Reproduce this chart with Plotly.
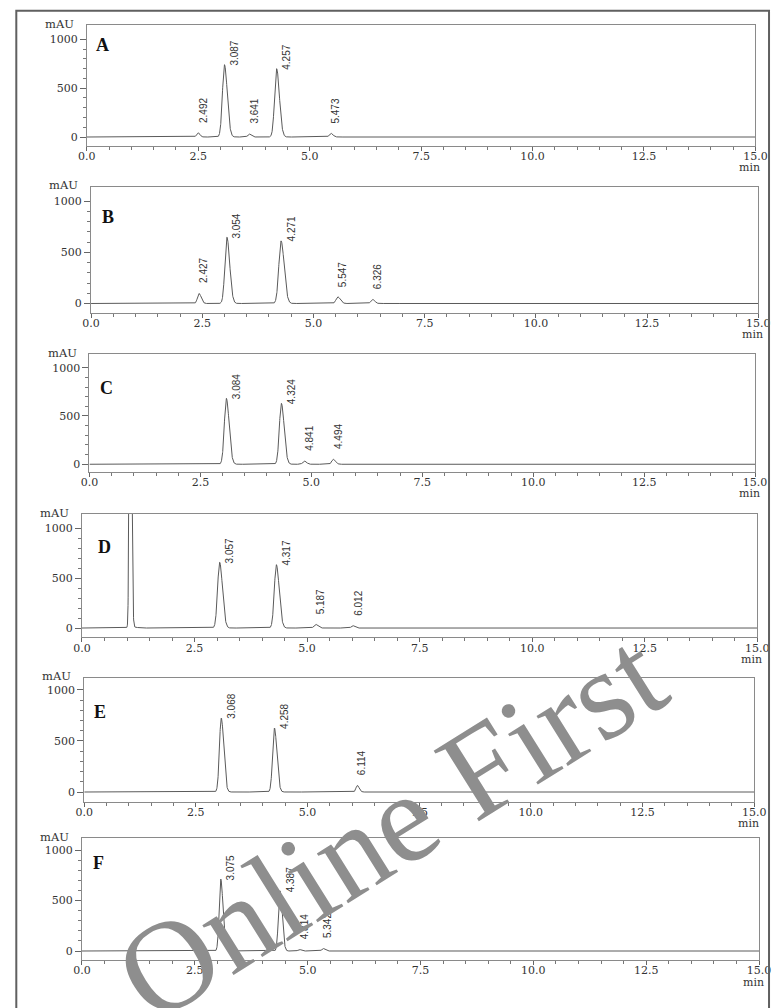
import numpy as np
import plotly.graph_objects as go

W, H = 782, 1008

# ---- chromatogram data: retention time (min), peak height (mAU), peak width (sigma, min), label ----
rt_A = [2.492, 3.087, 3.641, 4.257, 5.473]
height_A = [45, 740, 31, 699, 38]
width_A = [0.030, 0.045, 0.030, 0.045, 0.035]
label_A = ["2.492", "3.087", "3.641", "4.257", "5.473"]

rt_B = [2.427, 3.054, 4.271, 5.547, 6.326]
height_B = [98, 647, 611, 65, 42]
width_B = [0.035, 0.045, 0.050, 0.040, 0.035]
label_B = ["2.427", "3.054", "4.271", "5.547", "6.326"]

rt_C = [3.084, 4.324, 4.841, 5.494]
height_C = [683, 631, 34, 52]
width_C = [0.045, 0.045, 0.035, 0.035]
label_C = ["3.084", "4.324", "4.841", "4.494"]

rt_D = [1.07, 1.10, 3.057, 4.317, 5.187, 6.012]
height_D = [5000, 10, 659, 635, 37, 24]
width_D = [0.019, 0.08, 0.045, 0.045, 0.035, 0.030]
label_D = ["", "", "3.057", "4.317", "5.187", "6.012"]

rt_E = [3.068, 4.258, 6.114]
height_E = [725, 627, 65]
width_E = [0.040, 0.040, 0.030]
label_E = ["3.068", "4.258", "6.114"]

rt_F = [3.075, 4.387, 4.814, 5.342]
height_F = [712, 596, 15, 25]
width_F = [0.035, 0.035, 0.030, 0.030]
label_F = ["3.075", "4.387", "4.814", "5.342"]

panels = [
    ("A", rt_A, height_A, width_A, label_A),
    ("B", rt_B, height_B, width_B, label_B),
    ("C", rt_C, height_C, width_C, label_C),
    ("D", rt_D, height_D, width_D, label_D),
    ("E", rt_E, height_E, width_E, label_E),
    ("F", rt_F, height_F, width_F, label_F),
]

x_ticks = [0, 2.5, 5.0, 7.5, 10.0, 12.5, 15.0]
x_ticktext = ["0.0", "2.5", "5.0", "7.5", "10.0", "12.5", "15.0"]
y_ticks = [0, 500, 1000]
y_ticktext = ["0", "500", "1000"]

# ---- page layout of each panel (pixels): box left, right, top, bottom; y-range ----
boxes = [
    (80.0, 767.0, 25.0, 145.7, -89, 1146),
    (84.3, 770.0, 186.7, 312.5, -88, 1140),
    (82.7, 766.7, 354.0, 471.5, -75, 1142),
    (75.0, 769.0, 514.0, 637.3, -93, 1143),
    (77.3, 765.7, 677.7, 801.5, -93, 1120),
    (75.0, 770.7, 838.3, 960.0, -89, 1116),
]
letter_pos = [(96.5, 45.5), (102, 216.7), (100, 388), (98, 546.7), (94, 711.7), (92, 863)]


def px(xp):
    return xp / W


def py(yp):
    return 1 - yp / H


def trace_from_peaks(t, rts, hts, wds):
    y = np.zeros_like(t)
    for r, h, s in zip(rts, hts, wds):
        sig = np.where(t < r, s, s * 1.4)  # mild tailing on the trailing edge
        y += h * np.exp(-0.5 * ((t - r) / sig) ** 2)
    return y


t = np.linspace(0, 15, 6001)
fig = go.Figure()
annotations = []
shapes = []

axis_font = dict(family="DejaVu Serif", size=11, color="#333")
line_col = "#8a8a8a"

for i, (name, rts, hts, wds, lbls) in enumerate(panels):
    n = i + 1
    xa = "x" if n == 1 else f"x{n}"
    ya = "y" if n == 1 else f"y{n}"
    left, right, top, bottom, ylo, yhi = boxes[i]

    fig.add_trace(go.Scatter(
        x=t, y=trace_from_peaks(t, rts, hts, wds), mode="lines",
        line=dict(color="#5a5a5a", width=1), xaxis=xa, yaxis=ya,
        showlegend=False, hoverinfo="skip"))

    fig.layout[f"xaxis{'' if n == 1 else n}"] = dict(
        domain=[px(left), px(right)], anchor=ya, range=[0, 15],
        showline=True, mirror=True, linecolor=line_col, linewidth=1,
        showgrid=False, zeroline=False,
        tickmode="array", tickvals=x_ticks, ticktext=x_ticktext,
        ticks="outside", ticklen=4, tickcolor="#666", tickfont=axis_font,
        ticklabelstandoff=-4,
        minor=dict(dtick=0.5, ticks="outside", ticklen=3, tickcolor="#777", showgrid=False),
        fixedrange=True)
    fig.layout[f"yaxis{'' if n == 1 else n}"] = dict(
        domain=[py(bottom), py(top)], anchor=xa, range=[ylo, yhi],
        showline=True, mirror=True, linecolor=line_col, linewidth=1,
        showgrid=False, zeroline=False,
        tickmode="array", tickvals=y_ticks, ticktext=y_ticktext,
        ticks="outside", ticklen=6, tickcolor="#666", tickfont=axis_font,
        minor=dict(tickmode="array", tickvals=[100, 200, 300, 400, 600, 700, 800, 900],
                   ticks="outside", ticklen=3, tickcolor="#777", showgrid=False),
        fixedrange=True)

    # retention-time labels, rotated, beside each apex
    for r, h, lb in zip(rts, hts, lbls):
        if not lb:
            continue
        big = h > 200
        annotations.append(dict(
            x=r, y=h, xref=xa, yref=ya, text=lb, showarrow=False,
            textangle=-90, xanchor="center", yanchor="bottom",
            xshift=10 if big else 5, yshift=-3 if big else 8,
            font=dict(family="Liberation Sans", size=10, color="#333")))

    # panel letter
    lx, ly = letter_pos[i]
    annotations.append(dict(
        x=px(lx), y=py(ly), xref="paper", yref="paper", text=f"<b>{name}</b>",
        showarrow=False, xanchor="center", yanchor="middle",
        font=dict(family="Liberation Serif", size=18, color="#111")))

    # axis unit labels
    annotations.append(dict(
        x=px(left - 28), y=py(top - 1.5), xref="paper", yref="paper", text="mAU",
        showarrow=False, xanchor="center", yanchor="middle",
        font=dict(family="DejaVu Serif", size=11.5, color="#333")))
    annotations.append(dict(
        x=px(right - 6), y=py(bottom + 22), xref="paper", yref="paper", text="min",
        showarrow=False, xanchor="center", yanchor="middle",
        font=dict(family="DejaVu Serif", size=11, color="#333")))

# outer frame
shapes.append(dict(type="rect", xref="paper", yref="paper",
                   x0=px(7.5), x1=px(781), y0=-0.01, y1=py(10.7),
                   line=dict(color="#606060", width=2), fillcolor="rgba(0,0,0,0)"))

# watermark
annotations.append(dict(
    x=px(392), y=py(826), xref="paper", yref="paper", text="Online First",
    showarrow=False, textangle=-32, xanchor="center", yanchor="middle",
    font=dict(family="Liberation Serif", size=128, color="#8e8e8e")))

fig.update_layout(
    width=W, height=H, margin=dict(l=0, r=0, t=0, b=0),
    paper_bgcolor="white", plot_bgcolor="white",
    annotations=annotations, shapes=shapes, showlegend=False)

fig.write_html("out.html")
